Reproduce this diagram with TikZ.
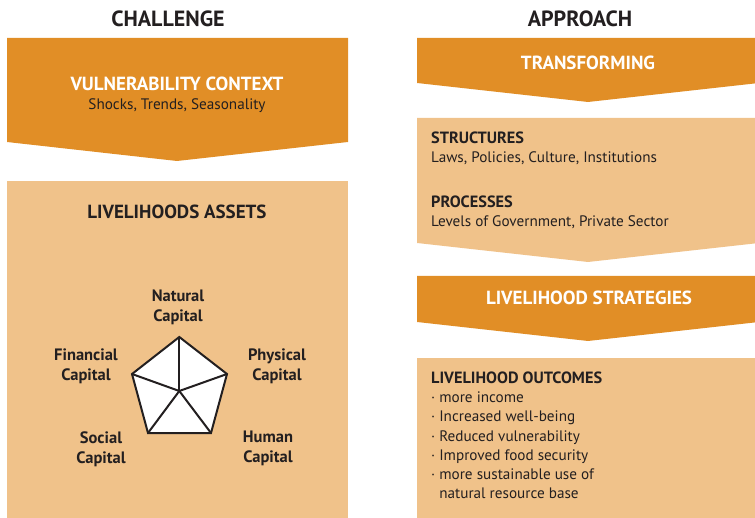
\documentclass[tikz,border=0pt]{standalone}
\usepackage{fontspec}
\setmainfont{PT Sans}
\definecolor{dorange}{RGB}{225,142,38}
\definecolor{lorange}{RGB}{240,194,138}
\definecolor{txt}{RGB}{35,31,32}
\begin{document}
\begin{tikzpicture}[x=1pt,y=-1pt,inner sep=0pt,
  hd/.style={font=\fontsize{22}{26}\selectfont\bfseries, text=txt},
  wt/.style={font=\fontsize{19}{22}\selectfont\bfseries, text=white},
  assettitle/.style={font=\fontsize{19}{22}\selectfont\bfseries, text=txt},
  bt/.style={font=\fontsize{16.3}{19}\selectfont\bfseries, text=txt},
  rt/.style={font=\fontsize{15.2}{19.3}\selectfont, text=txt},
  capt/.style={font=\fontsize{16.5}{20}\selectfont\bfseries, text=txt, align=center},
  darkbox/.style={fill=dorange},
  lightbox/.style={fill=lorange}]
\useasboundingbox (0,0) rectangle (755,518);
\clip (0,0) rectangle (755,518);
% left column
\path[darkbox] (7,38) -- (348,38) -- (348,142) -- (177,161) -- (7,142) -- cycle;
\path[lightbox] (7,181) rectangle (348,520);
% right column
\path[darkbox] (417,38) -- (759,38) -- (759,83) -- (588,102) -- (417,83) -- cycle;
\path[lightbox] (417,118) -- (759,118) -- (759,243) -- (588,262) -- (417,243) -- cycle;
\path[darkbox] (417,276) -- (759,276) -- (759,322) -- (588,341) -- (417,322) -- cycle;
\path[lightbox] (417,358) rectangle (759,520);
% headings
\node[hd] (challenge) at (168,19) {CHALLENGE};
\node[hd] (approach) at (580,19) {APPROACH};
\node[wt] (vc) at (177,84) {VULNERABILITY CONTEXT};
\node[rt] (vcs) at (177,105.5) {Shocks, Trends, Seasonality};
\node[assettitle] (la) at (177,212) {LIVELIHOODS ASSETS};
\node[wt] (tr) at (588,63) {TRANSFORMING};
\node[wt] (ls) at (589,298) {LIVELIHOOD STRATEGIES};
\node[bt,anchor=west] (st) at (431,138) {STRUCTURES};
\node[rt,anchor=west] (sts) at (431,158) {Laws, Policies, Culture, Institutions};
\node[bt,anchor=west] (pr) at (431,202) {PROCESSES};
\node[rt,anchor=west] (prs) at (431,222) {Levels of Government, Private Sector};
\node[bt,anchor=west] (lo) at (431,378) {LIVELIHOOD OUTCOMES};
\node[rt,anchor=north west,align=left] (los) at (431,391.5)
  {· more income\\· Increased well-being\\· Reduced vulnerability\\· Improved food security\\· more sustainable use of\\\phantom{·} natural resource base};
% pentagon
\coordinate (pc) at (179.3,391);
\coordinate (pt) at (179.3,337);
\coordinate (pr) at (227,374);
\coordinate (pbr) at (211,433);
\coordinate (pbl) at (148,433);
\coordinate (pl) at (132,374);
\draw[txt,fill=white,line width=2pt,line join=miter] (pt) -- (pr) -- (pbr) -- (pbl) -- (pl) -- cycle;
\foreach \v in {pt,pr,pbr,pbl,pl} \draw[txt,line width=2pt] (pc) -- (\v);
\node[capt] (nat) at (178,307) {Natural\\Capital};
\node[capt] (fin) at (86,366) {Financial\\Capital};
\node[capt] (phy) at (277,366) {Physical\\Capital};
\node[capt] (soc) at (101,449) {Social\\Capital};
\node[capt] (hum) at (268,448) {Human\\Capital};
\end{tikzpicture}
\end{document}
